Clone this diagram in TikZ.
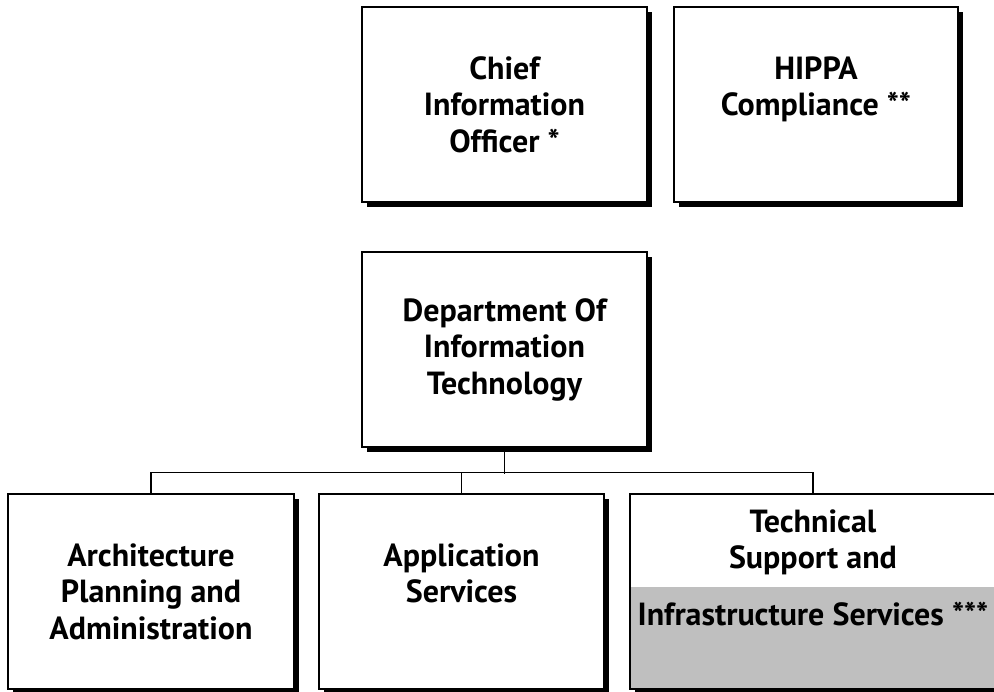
\documentclass[tikz,border=0pt]{standalone}
\usepackage{fontspec}
\setmainfont{PT Sans}
\usetikzlibrary{shadows}
\begin{document}
\begin{tikzpicture}[x=1pt,y=-1pt,
  orgbox/.style={draw=black, line width=1.6pt, fill=white, rectangle, inner sep=0pt,
    minimum width=285pt, minimum height=195pt, align=center,
    font=\fontsize{32}{36.5}\selectfont\bfseries,
    drop shadow={shadow xshift=5pt, shadow yshift=-5pt, fill=black, opacity=1}},
  conn/.style={draw=black, line width=1.3pt}]
\clip (0,0) rectangle (994,692);
\fill[white] (0,0) rectangle (994,692);
\node[orgbox] (cio) at (504.5,104.5) {Chief\\Information\\Officer *};
\node[orgbox, minimum width=284pt] (hippa) at (816,104.5) {HIPPA\\Compliance **\\\mbox{}};
\node[orgbox] (dept) at (504.5,349.5) {Department Of\\Information\\Technology};
\node[orgbox, minimum width=286pt] (arch) at (151,591.5) {Architecture\\Planning and\\Administration};
\node[orgbox] (app) at (461.5,591.5) {Application\\Services\\\mbox{}};
\node[orgbox, minimum width=366pt,
  path picture={\fill[black!25] (path picture bounding box.south west) rectangle ([yshift=102pt]path picture bounding box.south east);}]
  (tech) at (813,591.5) {Technical\\Support and\\[20pt]Infrastructure Services ***\\[12pt]\mbox{}};
\draw[conn] (dept.south) -- ++(0,26);
\draw[conn] (arch.north) -- ++(0,-21) -| (tech.north);
\draw[conn] (app.north) -- ++(0,-21);
\end{tikzpicture}
\end{document}
